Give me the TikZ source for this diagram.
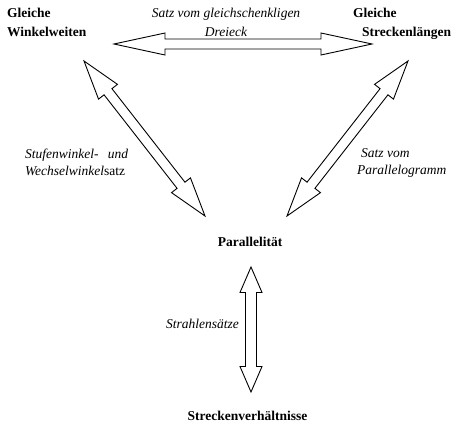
\documentclass[tikz,border=0pt]{standalone}
\usepackage{fontspec}
\setmainfont{Liberation Serif}
\usetikzlibrary{calc}

\newcommand\blockarrow[5]{%
  \draw[arrowline] (#1)
    -- ($(#1)!#3!(#2)!#4!90:(#2)$) -- ($(#1)!#3!(#2)!#5!90:(#2)$)
    -- ($(#2)!#3!(#1)!#5!-90:(#1)$) -- ($(#2)!#3!(#1)!#4!-90:(#1)$)
    -- (#2)
    -- ($(#2)!#3!(#1)!#4!90:(#1)$) -- ($(#2)!#3!(#1)!#5!90:(#1)$)
    -- ($(#1)!#3!(#2)!#5!-90:(#2)$) -- ($(#1)!#3!(#2)!#4!-90:(#2)$)
    -- cycle;}

\begin{document}
\begin{tikzpicture}[
    x=1pt, y=-1pt,
    topic/.style={font=\fontsize{13.5}{19}\selectfont\bfseries, inner sep=0pt},
    rule/.style={font=\fontsize{13.5}{17}\selectfont\itshape, inner sep=0pt},
    arrowline/.style={draw=black, line width=0.9pt, fill=white, line join=miter}
]
\useasboundingbox (0,0) rectangle (461,425);
\coordinate (wwEnd) at (114,44);
\coordinate (slEnd) at (372,44);
\coordinate (wwDiag) at (84,61);
\coordinate (slDiag) at (408,61);
\coordinate (parL) at (205,216);
\coordinate (parR) at (287,216);
\coordinate (parB) at (251,267);
\coordinate (svTop) at (251,392);
\blockarrow{wwEnd}{slEnd}{51pt}{11pt}{5pt}
\blockarrow{wwDiag}{parL}{39pt}{12pt}{5pt}
\blockarrow{slDiag}{parR}{39pt}{12pt}{5pt}
\blockarrow{parB}{svTop}{25.5pt}{11pt}{5.5pt}
\node[topic, anchor=north west, align=left] (ww) at (7,7.8) {Gleiche\\Winkelweiten};
\node[topic, anchor=north west, align=left] (sl) at (353,7.8) {Gleiche\\\hspace*{9pt}Streckenlängen};
\node[topic, anchor=base] (par) at (250,247) {Parallelität};
\node[topic, anchor=base] (sv) at (247.5,420) {Streckenverhältnisse};
\node[rule, anchor=north, align=center, font=\fontsize{13.5}{19}\selectfont\itshape] (gs) at (226,7.8) {Satz vom gleichschenkligen\\Dreieck};
\node[rule, anchor=north west, text width=103pt, align=left] (sw) at (25,148.8) {Stufenwinkel-\hfill und\\Wechselwinkel\textup{satz}};
\node[rule, anchor=north west, align=left] (pg) at (357,148.8) {\hspace*{4pt}Satz vom\\Parallelogramm};
\node[rule, anchor=base west] (st) at (166,328) {Strahlensätze};
\end{tikzpicture}
\end{document}
